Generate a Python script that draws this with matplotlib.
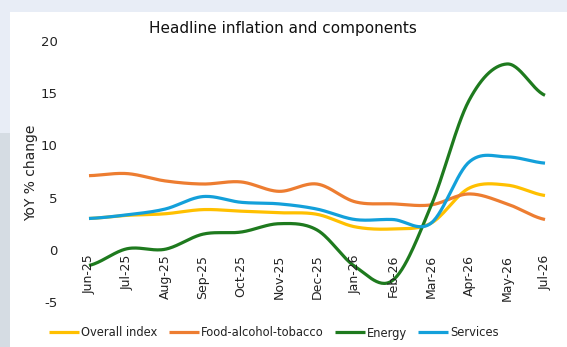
import numpy as np
import matplotlib
matplotlib.use("Agg")
import matplotlib.pyplot as plt
from matplotlib.patches import Rectangle

plt.rcParams["font.family"] = ["DejaVu Sans"]

months = ["Jun-25", "Jul-25", "Aug-25", "Sep-25", "Oct-25", "Nov-25", "Dec-25",
          "Jan-26", "Feb-26", "Mar-26", "Apr-26", "May-26", "Jul-26"]

overall = [3.0, 3.3, 3.45, 3.85, 3.7, 3.55, 3.4, 2.2, 2.0, 2.55, 5.9, 6.2, 5.2]
food = [7.1, 7.3, 6.6, 6.3, 6.5, 5.6, 6.3, 4.6, 4.4, 4.3, 5.35, 4.4, 2.9]
energy = [-1.5, 0.1, 0.05, 1.5, 1.7, 2.5, 1.9, -1.6, -2.9, 4.2, 14.3, 17.8, 14.8]
services = [3.0, 3.35, 3.9, 5.1, 4.55, 4.4, 3.9, 2.9, 2.9, 2.55, 8.4, 8.9, 8.3]

series = [("Overall index", overall, "#FFC000"),
          ("Food-alcohol-tobacco", food, "#ED7D31"),
          ("Energy", energy, "#1E7A1E"),
          ("Services", services, "#13A0DA")]


def smooth(y, n=30):
    # Catmull-Rom curve through every point, like a "smoothed line" chart
    y = np.asarray(y, dtype=float)
    p = np.concatenate([[y[0]], y, [y[-1]]])
    xs, ys = [], []
    t = np.linspace(0, 1, n, endpoint=False)
    for i in range(len(y) - 1):
        p0, p1, p2, p3 = p[i], p[i + 1], p[i + 2], p[i + 3]
        m1 = (p2 - p0) / 2
        m2 = (p3 - p1) / 2
        h00 = 2 * t**3 - 3 * t**2 + 1
        h10 = t**3 - 2 * t**2 + t
        h01 = -2 * t**3 + 3 * t**2
        h11 = t**3 - t**2
        xs.append(i + t)
        ys.append(h00 * p1 + h10 * m1 + h01 * p2 + h11 * m2)
    xs.append([len(y) - 1])
    ys.append([y[-1]])
    return np.concatenate(xs), np.concatenate(ys)


W, H = 567, 347
fig = plt.figure(figsize=(W / 100, H / 100), dpi=100)
fig.patch.set_facecolor("white")

# page background strips
fig.patches.append(Rectangle((0, 1 - 12 / H), 1, 12 / H, transform=fig.transFigure,
                             facecolor="#E8EDF6", edgecolor="none", zorder=0))
fig.patches.append(Rectangle((0, 1 - 133 / H), 10 / W, 121 / H, transform=fig.transFigure,
                             facecolor="#E8EDF6", edgecolor="none", zorder=0))
fig.patches.append(Rectangle((0, 0), 10 / W, 1 - 133 / H, transform=fig.transFigure,
                             facecolor="#D5DCE3", edgecolor="none", zorder=0))

left_px, right_px, top_px, bot_px = 62, 556, 41, 302
ax = fig.add_axes([left_px / W, 1 - bot_px / H, (right_px - left_px) / W, (bot_px - top_px) / H])
ax.set_facecolor("none")

step = (545 - 89) / 12
ax.set_xlim(-(89 - left_px) / step, 12 + (right_px - 545) / step)
ax.set_ylim(-5, 20)

for name, vals, col in series:
    sx, sy = smooth(vals)
    ax.plot(sx, sy, color=col, lw=2.3, label=name, solid_capstyle="butt")

for s in ax.spines.values():
    s.set_visible(False)
ax.set_xticks([])
ax.set_yticks([-5, 0, 5, 10, 15, 20])
ax.set_yticklabels(["-5", "0", "5", "10", "15", "20"])
ax.tick_params(axis="y", length=0, pad=3, labelsize=9.5, labelcolor="#222222")

for i, m in enumerate(months):
    ax.annotate(m, (i, 0), xytext=(0, -3.5), textcoords="offset points",
                rotation=90, ha="center", va="top", fontsize=9, color="#222222")

fig.text(31 / W, 1 - 173 / H, "YoY % change", rotation=90, ha="center", va="center",
         fontsize=10, color="#222222")
fig.text(283 / W, 1 - 29 / H, "Headline inflation and components", ha="center", va="center",
         fontsize=11, color="#111111")

fig.legend(loc="center", bbox_to_anchor=(274 / W, 1 - 333 / H), ncol=4, frameon=False,
           fontsize=8.3, handlelength=2.6, handletextpad=0.15, columnspacing=1.0,
           labelcolor="#222222")

fig.savefig("out.png", dpi=100)
